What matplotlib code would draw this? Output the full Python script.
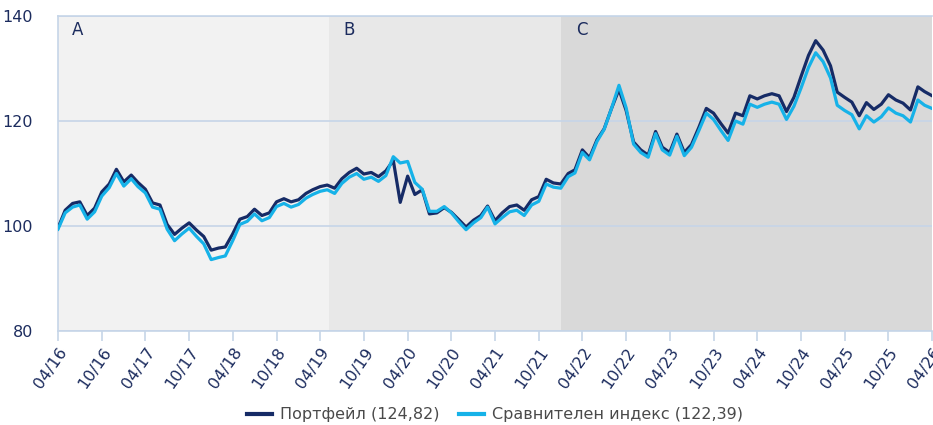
import numpy as np
import pandas as pd
import matplotlib
matplotlib.use('Agg')
import matplotlib.pyplot as plt
import matplotlib.dates as mdates

# monthly values, 04/2016 .. 04/2026
dates = pd.date_range('2016-04-01', periods=121, freq='MS')

portfolio = [
    99.6, 103.0, 104.3, 104.6, 102.0, 103.4, 106.5, 108.0, 110.8, 108.4,
    109.7, 108.3, 107.0, 104.4, 104.0, 100.3, 98.4, 99.6, 100.6, 99.2,
    98.0, 95.4, 95.8, 96.0, 98.5, 101.3, 101.8, 103.2, 102.0, 102.5,
    104.6, 105.2, 104.6, 105.0, 106.2, 106.9, 107.5, 107.8, 107.2, 109.0,
    110.2, 111.0, 109.9, 110.2, 109.4, 110.5, 112.5, 104.5, 109.5, 106.0,
    106.9, 102.3, 102.5, 103.5, 102.6, 101.2, 99.8, 101.1, 102.0, 103.8,
    101.0, 102.5, 103.7, 104.0, 103.0, 105.0, 105.6, 108.9, 108.2, 108.0,
    110.0, 110.7, 114.5, 113.0, 116.4, 118.5, 122.4, 126.0, 122.0, 116.0,
    114.5, 113.5, 118.0, 115.0, 114.0, 117.5, 114.0, 115.5, 118.8, 122.4,
    121.5, 119.5, 117.7, 121.5, 121.0, 124.8, 124.2, 124.8, 125.2, 124.8,
    121.8, 124.5, 128.5, 132.5, 135.3, 133.5, 130.5, 125.5, 124.5, 123.6,
    121.0, 123.5, 122.2, 123.2, 125.0, 124.0, 123.4, 122.1, 126.5, 125.6,
    124.82,
]

benchmark = [
    99.4, 102.5, 103.6, 104.0, 101.3, 102.7, 105.7, 107.3, 110.0, 107.6,
    109.0, 107.5, 106.3, 103.6, 103.2, 99.4, 97.2, 98.5, 99.6, 98.0,
    96.6, 93.6, 94.0, 94.3, 97.2, 100.3, 100.9, 102.3, 101.0, 101.6,
    103.7, 104.3, 103.6, 104.1, 105.3, 106.0, 106.6, 106.9, 106.2, 108.1,
    109.3, 110.0, 108.9, 109.3, 108.5, 109.6, 113.2, 112.0, 112.3, 108.3,
    107.0, 102.8, 102.8, 103.7, 102.5, 100.8, 99.3, 100.6, 101.6, 103.6,
    100.4, 101.6, 102.7, 103.0, 102.0, 104.0, 104.7, 108.0, 107.4, 107.2,
    109.4, 110.1, 114.0, 112.6, 116.1, 118.4, 122.4, 126.8, 122.5, 115.6,
    114.0, 113.1, 117.6, 114.5, 113.5, 117.1, 113.4, 115.0, 118.2, 121.5,
    120.3, 118.2, 116.3, 120.0, 119.4, 123.2, 122.6, 123.2, 123.6, 123.2,
    120.3, 122.8, 126.3, 130.2, 133.0, 131.3, 128.2, 123.0, 122.0, 121.2,
    118.5, 121.0, 119.8, 120.8, 122.5, 121.5, 121.0, 119.8, 124.0, 123.0,
    122.39,
]

labels = ['Портфейл (124,82)', 'Сравнителен индекс (122,39)']

phase_names = ['A', 'B', 'C']
phase_starts = ['2016-04-01', '2019-05-10', '2022-01-03']
phase_ends = ['2019-05-10', '2022-01-03', '2026-04-01']
phase_colors = ['#f2f2f2', '#e8e8e8', '#d9d9d9']

navy = '#162b66'
cyan = '#16b2e8'
text_col = '#1c2c5e'
line_col = '#c6d5e8'

fig = plt.figure(figsize=(9.33, 4.25), dpi=100)
ax = fig.add_axes([58 / 933, 94 / 425, 874 / 933, 315 / 425])

for name, s, e, c in zip(phase_names, phase_starts, phase_ends, phase_colors):
    s, e = pd.Timestamp(s), pd.Timestamp(e)
    ax.axvspan(s, e, color=c, lw=0, zorder=0)
    ax.text(s + pd.Timedelta(days=60), 137.3, name, fontsize=12,
            color=text_col, va='center', ha='left')

ax.plot(dates, portfolio, color=navy, lw=2.3, label=labels[0], zorder=3)
ax.plot(dates, benchmark, color=cyan, lw=2.3, label=labels[1], zorder=4)

ax.set_xlim(pd.Timestamp('2016-04-01'), pd.Timestamp('2026-04-01'))
ax.set_ylim(80, 140)
ax.set_yticks([80, 100, 120, 140])
ax.yaxis.grid(True, color=line_col, lw=1.2, zorder=1)
ax.set_axisbelow(True)

ax.xaxis.set_major_locator(mdates.MonthLocator(bymonth=[4, 10]))
ax.xaxis.set_major_formatter(mdates.DateFormatter('%m/%y'))
plt.setp(ax.get_xticklabels(), rotation=55, ha='right', rotation_mode='anchor')

ax.tick_params(axis='x', colors=line_col, labelcolor=text_col, labelsize=11.5,
               length=7, width=1.2, pad=3)
ax.tick_params(axis='y', length=0, labelcolor=text_col, labelsize=11.5, pad=18)

for side in ['left', 'bottom', 'top']:
    ax.spines[side].set_color(line_col)
    ax.spines[side].set_linewidth(1.2)
ax.spines['right'].set_visible(False)

leg = ax.legend(loc='lower center', bbox_to_anchor=(0.5, -0.335), ncol=2,
                frameon=False, fontsize=11.5, handlelength=1.6,
                handletextpad=0.5, columnspacing=1.2)
for t in leg.get_texts():
    t.set_color('#4a4a4a')
for h in leg.legend_handles:
    h.set_linewidth(3)

fig.savefig('out.png', dpi=100)
